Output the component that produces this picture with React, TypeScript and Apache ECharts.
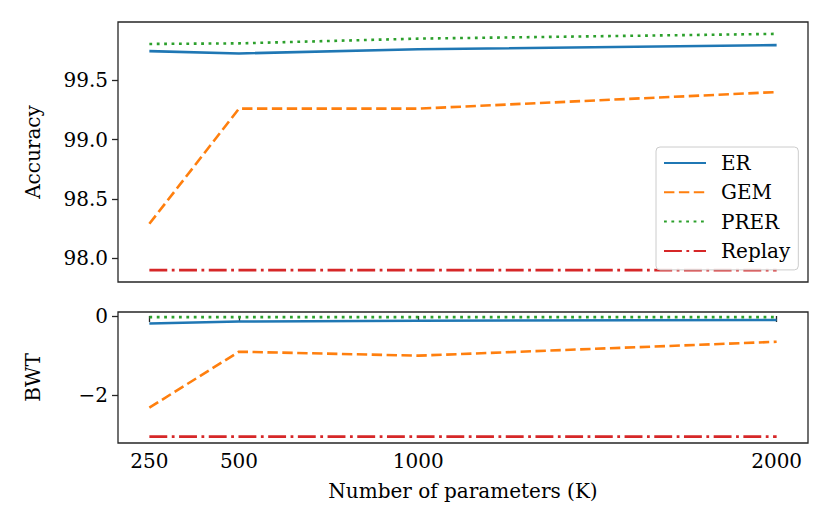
import React, { useEffect, useRef } from "react";
import * as echarts from "echarts";

const params = [250, 500, 1000, 2000];
const xTicks = [250, 500, 1000, 2000];

const accER = [99.745, 99.725, 99.76, 99.795];
const accGEM = [98.29, 99.26, 99.26, 99.4];
const accPRER = [99.805, 99.81, 99.85, 99.89];
const accReplay = [97.9, 97.9, 97.9, 97.9];
const accTicks = [98.0, 98.5, 99.0, 99.5];

const bwtER = [-0.19, -0.14, -0.12, -0.1];
const bwtGEM = [-2.31, -0.9, -1.0, -0.65];
const bwtPRER = [-0.03, -0.03, -0.03, -0.03];
const bwtReplay = [-3.04, -3.04, -3.04, -3.04];
const bwtTicks = [-2, 0];

const names = ["ER", "GEM", "PRER", "Replay"];
const colors = ["#1f77b4", "#ff7f0e", "#2ca02c", "#d62728"];
const dashes: any[] = ["solid", [10.4, 4.5], [2.8, 4.6], [17.9, 4.5, 2.8, 4.5]];

const FONT = "DejaVu Serif";
const FS = 20;
const SPINE = "#262626";

function mk(name: string, data: number[], idx: number, gi: number) {
  return {
    type: "line",
    name,
    xAxisIndex: gi,
    yAxisIndex: gi,
    data: params.map((p, i) => [p, data[i]]),
    symbol: "none",
    showSymbol: false,
    silent: true,
    lineStyle: { color: colors[idx], width: 2.6, type: dashes[idx], cap: "butt" },
    itemStyle: { color: colors[idx] },
    z: 2,
  };
}

function fmtMinus(v: number) {
  return v < 0 ? "\u2212" + Math.abs(v) : String(v);
}

export default function App() {
  const ref = useRef<HTMLDivElement>(null);
  useEffect(() => {
    const chart = echarts.init(ref.current!, null, { renderer: "svg" });
    const baseX = (gi: number, showLabels: boolean) => ({
      type: "value",
      gridIndex: gi,
      min: 162.5,
      max: 2087.5,
      splitLine: { show: false },
      axisLine: { show: false },
      axisTick: {
        show: showLabels,
        customValues: xTicks,
        length: 6,
        lineStyle: { color: SPINE, width: 1.3 },
      },
      axisLabel: {
        show: showLabels,
        customValues: xTicks,
        formatter: (v: number) => String(v),
        margin: 8,
        color: "#000",
        fontFamily: FONT,
        fontSize: FS,
      },
      name: showLabels ? "Number of parameters (K)" : "",
      nameLocation: "middle",
      nameGap: 38,
      nameTextStyle: { color: "#000", fontFamily: FONT, fontSize: FS },
    });
    const baseY = (gi: number, min: number, max: number, ticks: number[], name: string, fmt: (v: number) => string) => ({
      type: "value",
      gridIndex: gi,
      min,
      max,
      splitLine: { show: false },
      axisLine: { show: false },
      axisTick: {
        show: true,
        customValues: ticks,
        length: 6,
        lineStyle: { color: SPINE, width: 1.3 },
      },
      axisLabel: {
        customValues: ticks,
        formatter: fmt,
        margin: 10,
        color: "#000",
        fontFamily: FONT,
        fontSize: FS,
      },
      name,
      nameLocation: "middle",
      nameGap: 75,
      nameTextStyle: { color: "#000", fontFamily: FONT, fontSize: FS },
    });
    const option: any = {
      animation: false,
      backgroundColor: "#ffffff",
      grid: [
        { left: 118, top: 22, width: 690, height: 260, show: true, borderColor: SPINE, borderWidth: 1.3, containLabel: false },
        { left: 118, top: 312, width: 690, height: 131, show: true, borderColor: SPINE, borderWidth: 1.3, containLabel: false },
      ],
      xAxis: [baseX(0, false), baseX(1, true)],
      yAxis: [
        baseY(0, 97.8, 99.99, accTicks, "Accuracy", (v: number) => v.toFixed(1)),
        baseY(1, -3.2, 0.1, bwtTicks, "BWT", fmtMinus),
      ],
      legend: {
        orient: "vertical",
        left: 656,
        top: 147,
        padding: [6, 8, 9, 7],
        itemWidth: 42,
        itemHeight: 20,
        itemGap: 9.3,
        itemStyle: { opacity: 0 },
        backgroundColor: "rgba(255,255,255,0.8)",
        borderColor: "#cccccc",
        borderWidth: 1,
        borderRadius: 4,
        textStyle: { fontFamily: FONT, fontSize: FS, color: "#000", padding: [0, 0, 0, 10] },
        data: names,
        selectedMode: false,
      },
      series: [
        mk("ER", accER, 0, 0),
        mk("GEM", accGEM, 1, 0),
        mk("PRER", accPRER, 2, 0),
        mk("Replay", accReplay, 3, 0),
        mk("ER", bwtER, 0, 1),
        mk("GEM", bwtGEM, 1, 1),
        mk("PRER", bwtPRER, 2, 1),
        mk("Replay", bwtReplay, 3, 1),
      ],
    };
    chart.setOption(option);
    return () => chart.dispose();
  }, []);
  return <div ref={ref} style={{ position: "fixed", left: 0, top: 0, width: 830, height: 519 }} />;
}
